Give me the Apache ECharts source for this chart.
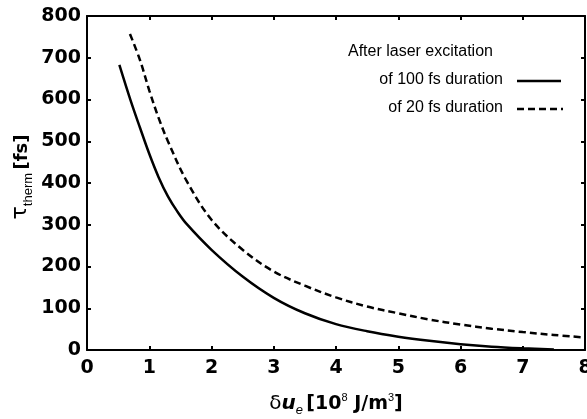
<!DOCTYPE html>
<html>
<head>
<meta charset="utf-8">
<script src="https://cdn.jsdelivr.net/npm/echarts@6/dist/echarts.min.js"></script>
<style>
  html, body { margin: 0; padding: 0; background: #fff; }
  #chart { width: 587px; height: 419px; }
</style>
</head>
<body>
<div id="chart"></div>
<script>
// energy density dU_e [10^8 J/m^3] vs thermalization time [fs]
var energy100 = [0.52, 0.7, 0.85, 1.0, 1.15, 1.3, 1.45, 1.6, 2.0, 2.5, 3.0, 3.5, 4.0, 4.5, 5.0, 5.5, 6.0, 6.5, 7.0, 7.5];
var tau100    = [683, 598, 533, 470, 414, 368, 332, 302, 240, 176, 125, 88, 62, 45, 32, 22, 14, 8, 4, 1];
var energy20  = [0.69, 0.85, 1.0, 1.15, 1.3, 1.6, 2.0, 2.5, 3.0, 3.5, 4.0, 4.5, 5.0, 5.5, 6.0, 6.5, 7.0, 7.5, 8.0];
var tau20     = [757, 695, 622, 556, 500, 405, 312, 240, 188, 154, 126, 104, 88, 73, 61, 51, 43, 36, 30];
var xTicks = [0, 1, 2, 3, 4, 5, 6, 7, 8];
var yTicks = [0, 100, 200, 300, 400, 500, 600, 700, 800];

function pairs(xs, ys) { return xs.map(function (x, i) { return [x, ys[i]]; }); }

var chart = echarts.init(document.getElementById('chart'), null, { renderer: 'canvas' });
var font = '"Liberation Sans", Arial, Helvetica, sans-serif';
var wide = '"DejaVu Sans", sans-serif';
var axisLine = { show: true, onZero: false, lineStyle: { color: '#000', width: 2 } };
var tick = { show: true, inside: true, length: 4, lineStyle: { color: '#000', width: 2 } };

var legendX = 517, legendY1 = 81, legendY2 = 109;

chart.setOption({
  animation: false,
  backgroundColor: '#fff',
  grid: { left: 87, right: 2, top: 16, bottom: 69, outerBoundsMode: 'none', containLabel: false },
  xAxis: [{
    type: 'value', min: xTicks[0], max: xTicks[xTicks.length - 1], interval: 1,
    axisLine: axisLine, axisTick: tick, splitLine: { show: false },
    axisLabel: { color: '#000', fontSize: 19, fontWeight: 'bold', fontFamily: wide, margin: 9 },
    name: '{d|δ}{u|u}{e|e} {b|[10}{p|8}{b| J/m}{p|3}{b|]}',
    nameLocation: 'middle', nameGap: 44, nameMoveOverlap: false,
    nameTextStyle: {
      rich: {
        d: { fontSize: 20, fontFamily: wide, color: '#000', verticalAlign: 'bottom' },
        u: { fontSize: 20, fontFamily: wide, fontWeight: 'bold', fontStyle: 'italic', color: '#000', verticalAlign: 'bottom' },
        e: { fontSize: 13, fontFamily: font, fontStyle: 'italic', color: '#000', verticalAlign: 'bottom', padding: [0, 0, -3, 0] },
        b: { fontSize: 19, fontFamily: wide, fontWeight: 'bold', color: '#000', verticalAlign: 'bottom' },
        p: { fontSize: 11, fontFamily: font, color: '#000', verticalAlign: 'top', padding: [-2, 0, 0, 0] }
      }
    }
  }, {
    type: 'value', position: 'top', min: 0, max: 8, interval: 1,
    axisLine: axisLine, axisTick: tick, axisLabel: { show: false }, splitLine: { show: false }
  }],
  yAxis: [{
    type: 'value', min: yTicks[0], max: yTicks[yTicks.length - 1], interval: 100,
    axisLine: axisLine, axisTick: tick, splitLine: { show: false },
    axisLabel: { color: '#000', fontSize: 19, fontWeight: 'bold', fontFamily: wide, margin: 6 },
    name: '{t|τ}{s|therm} {b|[fs]}',
    nameLocation: 'middle', nameGap: 56, nameRotate: 90, nameMoveOverlap: false,
    nameTextStyle: {
      padding: [0, 0, 0, 12],
      rich: {
        t: { fontSize: 22, fontFamily: wide, color: '#000', verticalAlign: 'bottom' },
        s: { fontSize: 13, fontFamily: font, color: '#000', verticalAlign: 'bottom', padding: [0, 0, -4, 0] },
        b: { fontSize: 18, fontFamily: wide, fontWeight: 'bold', color: '#000', verticalAlign: 'bottom' }
      }
    }
  }, {
    type: 'value', position: 'right', min: 0, max: 800, interval: 100,
    axisLine: axisLine, axisTick: tick, axisLabel: { show: false }, splitLine: { show: false }
  }],
  series: [{
    name: 'of 100 fs duration', type: 'line', smooth: 0.35, showSymbol: false,
    lineStyle: { color: '#000', width: 2.5 },
    data: pairs(energy100, tau100)
  }, {
    name: 'of 20 fs duration', type: 'line', smooth: 0.35, showSymbol: false,
    lineStyle: { color: '#000', width: 2.5, type: [7, 4] },
    data: pairs(energy20, tau20)
  }],
  graphic: [
    { type: 'text', left: 348, top: 44, style: { text: 'After laser excitation', font: '16px ' + font, fill: '#000' } },
    { type: 'text', right: 587 - 503, top: legendY1 - 9, style: { text: 'of 100 fs duration', font: '16px ' + font, fill: '#000' } },
    { type: 'text', right: 587 - 503, top: legendY2 - 9, style: { text: 'of 20 fs duration', font: '16px ' + font, fill: '#000' } },
    { type: 'line', shape: { x1: legendX, y1: legendY1, x2: legendX + 44, y2: legendY1 }, style: { stroke: '#000', lineWidth: 2.5 } },
    { type: 'line', shape: { x1: legendX, y1: legendY2, x2: legendX + 46, y2: legendY2 }, style: { stroke: '#000', lineWidth: 2.5, lineDash: [7, 4] } }
  ]
});
</script>
</body>
</html>
